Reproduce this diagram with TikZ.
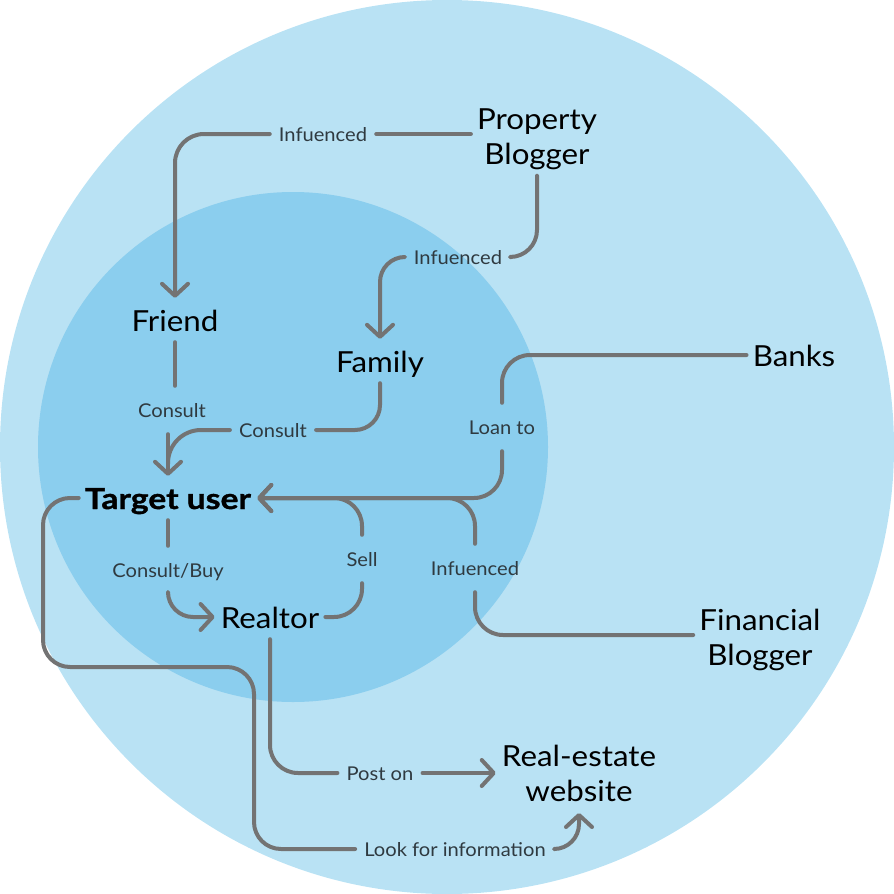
\documentclass[tikz,border=0pt]{standalone}
\usepackage{fontspec}
\setmainfont{Lato}[FakeStretch=1.08]
\newfontfamily\lblfont{Lato}[FakeStretch=1.06]
\newfontfamily\tufont{Lato}[FakeStretch=1.16, BoldFeatures={FakeBold=1.2}]
\usetikzlibrary{arrows.meta}
\definecolor{outerblue}{HTML}{B9E2F4}
\definecolor{innerblue}{HTML}{8BCEEE}
\definecolor{linegray}{HTML}{737373}
\definecolor{labelcol}{HTML}{2F3A40}
\begin{document}
\begin{tikzpicture}[x=1pt,y=-1pt,
  mainnode/.style={font=\fontsize{29}{35}\selectfont, text=black, inner xsep=6pt, inner ysep=11pt, text height=22pt, text depth=0pt, anchor=base},
  twoline/.style={font=\fontsize{29}{35}\selectfont, text=black, align=center, inner xsep=6pt, inner ysep=6pt, anchor=center},
  lbl/.style={font=\lblfont\fontsize{19}{21}\selectfont, text=labelcol, inner xsep=9pt, inner ysep=17pt, text height=14pt, text depth=0pt, anchor=base},
  conn/.style={draw=linegray, line width=4pt, line cap=round, line join=round},
  arr/.style={-{Straight Barb[length=12pt,width=26pt,round]}},
]
\useasboundingbox (0,0) rectangle (894,894);
\fill[outerblue] (447,447) circle[radius=447];
\fill[innerblue] (293,447) circle[radius=255];

% main nodes
\node[twoline] (pb) at (537,139) {Property\\Blogger};
\node[mainnode] (friend) at (175,331) {Friend};
\node[mainnode] (family) at (380,372) {Family};
\node[mainnode] (banks) at (794,366) {Banks};
\node[mainnode, font=\tufont\fontsize{29}{35}\selectfont\bfseries] (tu) at (168,509) {Target user};
\node[mainnode] (realtor) at (270,628) {Realtor};
\node[twoline] (fb) at (760,639.5) {Financial\\Blogger};
\node[twoline, inner ysep=11pt] (rew) at (579,773.5) {Real-estate\\website};

% labels
\node[lbl] (l1) at (323,141) {Infuenced};
\node[lbl] (l2) at (458,264) {Infuenced};
\node[lbl] (c1) at (172,417) {Consult};
\node[lbl] (c2) at (273,437) {Consult};
\node[lbl] (loan) at (502,434) {Loan to};
\node[lbl] (cb) at (168,577) {Consult/Buy};
\node[lbl] (sell) at (362,566) {Sell};
\node[lbl] (inf3) at (475,575) {Infuenced};
\node[lbl] (post) at (380,780) {Post on};
\node[lbl] (lfi) at (455,856) {Look for information};

% connectors
\draw[conn] (pb.west |- l1.east) -- (l1.east);
\draw[conn,arr,rounded corners=29pt] (l1.west) -| (friend.north);
\draw[conn,rounded corners=27pt] (pb.south) |- (l2.east);
\draw[conn,arr,rounded corners=25pt] (l2.west) -| (family.north);
\draw[conn] (friend.south) -- (friend.south |- c1.north);
\draw[conn,arr] (c1.south -| tu.north) -- (tu.north);
\draw[conn,rounded corners=25pt] (family.south) |- (c2.east);
\draw[conn,rounded corners=33pt] (c2.west) -| ([yshift=12pt]tu.north);
\draw[conn] (tu.south) -- (cb.north);
\draw[conn,arr,rounded corners=25pt] (cb.south) |- (realtor.west);
\draw[conn,rounded corners=28pt] (realtor.east) -| (sell.south);
\draw[conn,arr,rounded corners=28pt] (sell.north) |- (tu.east);
\draw[conn,rounded corners=28pt] (banks.west) -| (loan.north);
\draw[conn,arr,rounded corners=28pt] (loan.south) |- (tu.east);
\draw[conn,rounded corners=28pt] ([yshift=4.5pt]fb.west) -| (inf3.south);
\draw[conn,arr,rounded corners=28pt] (inf3.north) |- (tu.east);
\draw[conn,rounded corners=28pt] (realtor.south) |- (post.west);
\draw[conn,arr] (post.east) -- (post.east -| rew.west);
\draw[conn,rounded corners=27pt] (tu.west) -| (43,667) -- (254,667) |- (lfi.west);
\draw[conn,arr,rounded corners=25pt] (lfi.east) -| (rew.south);
\end{tikzpicture}
\end{document}
